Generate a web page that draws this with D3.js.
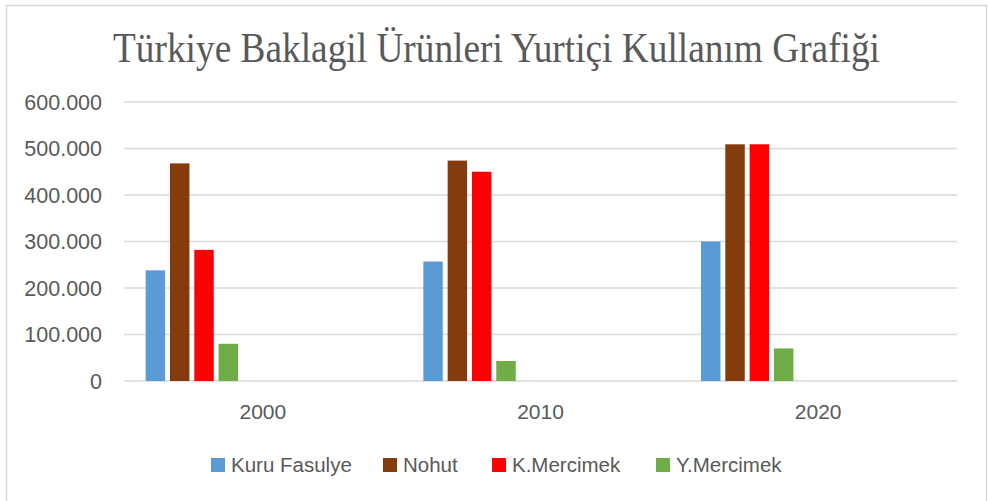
<!DOCTYPE html>
<html>
<head>
<meta charset="utf-8">
<script src="https://cdn.jsdelivr.net/npm/d3@7"></script>
<style>
  body { margin: 0; background: #fff; }
  svg text { font-family: "Liberation Sans", Arial, sans-serif; fill: #595959; }
</style>
</head>
<body>
<svg id="chart"></svg>
<script>
const years = ['2000', '2010', '2020']
const seriesNames = ['Kuru Fasulye', 'Nohut', 'K.Mercimek', 'Y.Mercimek']
const seriesColors = ['#5b9bd5', '#843c0c', '#ff0000', '#70ad47']
// values per series, one per year
const kuruFasulye = [238000, 257000, 300000]
const nohut = [468000, 474000, 509000]
const kMercimek = [282000, 450000, 509000]
const yMercimek = [80000, 43000, 70000]
// the source sheet has 6 more (empty) series that still take a slot in each group
const emptySlots = 6
const yTicks = [0, 100000, 200000, 300000, 400000, 500000, 600000]

const values = [kuruFasulye, nohut, kMercimek, yMercimek]

const W = 988, H = 501
const svg = d3.select('#chart').attr('width', W).attr('height', H)

// outer frame
svg.append('rect')
  .attr('x', 6.5).attr('y', 5.5)
  .attr('width', 980).attr('height', 505)
  .attr('fill', '#fff').attr('stroke', '#d9d9d9').attr('stroke-width', 1.5)

// title
svg.append('text')
  .attr('x', 496.5).attr('y', 62)
  .attr('text-anchor', 'middle')
  .attr('textLength', 767).attr('lengthAdjust', 'spacingAndGlyphs')
  .style('font-family', '"Liberation Serif", "Times New Roman", serif')
  .style('font-size', '42px')
  .text('Türkiye Baklagil Ürünleri Yurtiçi Kullanım Grafiği')

const x0 = d3.scaleBand().domain(years).range([124, 957])
const slotIds = d3.range(seriesNames.length + emptySlots)
const x1 = d3.scaleBand().domain(slotIds).range([0, x0.bandwidth()])
  .paddingInner(0.2).paddingOuter(0.81).align(0.55)
const y = d3.scaleLinear().domain([0, 600000]).range([381, 102])

const fmt = d => d === 0 ? '0' : d3.format(',')(d).replace(/,/g, '.')

// gridlines
svg.append('g').selectAll('line')
  .data(yTicks)
  .enter()
  .append('line')
  .attr('x1', 124).attr('x2', 957)
  .attr('y1', d => y(d)).attr('y2', d => y(d))
  .attr('stroke', '#d9d9d9').attr('stroke-width', 1.5)

// y labels
svg.append('g').selectAll('text')
  .data(yTicks)
  .enter()
  .append('text')
  .attr('x', 102)
  .attr('y', d => y(d))
  .attr('dy', '0.36em')
  .attr('text-anchor', 'end')
  .style('font-size', '21.5px')
  .text(fmt)

// bars
const groups = svg.append('g').selectAll('g')
  .data(years)
  .enter()
  .append('g')
  .attr('transform', d => `translate(${x0(d)},0)`)

groups.selectAll('rect')
  .data((yr, i) => values.map((v, s) => ({ s: s, v: v[i] })))
  .enter()
  .append('rect')
  .attr('x', d => x1(d.s))
  .attr('width', x1.bandwidth())
  .attr('y', d => y(d.v))
  .attr('height', d => y(0) - y(d.v))
  .attr('fill', d => seriesColors[d.s])

// x labels
svg.append('g').selectAll('text')
  .data(years)
  .enter()
  .append('text')
  .attr('x', d => x0(d) + x0.bandwidth() / 2)
  .attr('y', 419)
  .attr('text-anchor', 'middle')
  .style('font-size', '21px')
  .text(d => d)

// legend
const legendX = [211, 383, 492, 656]
const legend = svg.append('g').selectAll('g')
  .data(seriesNames)
  .enter()
  .append('g')
  .attr('transform', (d, i) => `translate(${legendX[i]},458)`)

legend.append('rect')
  .attr('width', 14).attr('height', 14)
  .attr('fill', (d, i) => seriesColors[i])

legend.append('text')
  .attr('x', 20).attr('y', 14)
  .style('font-size', '20.5px')
  .text(d => d)
</script>
</body>
</html>
